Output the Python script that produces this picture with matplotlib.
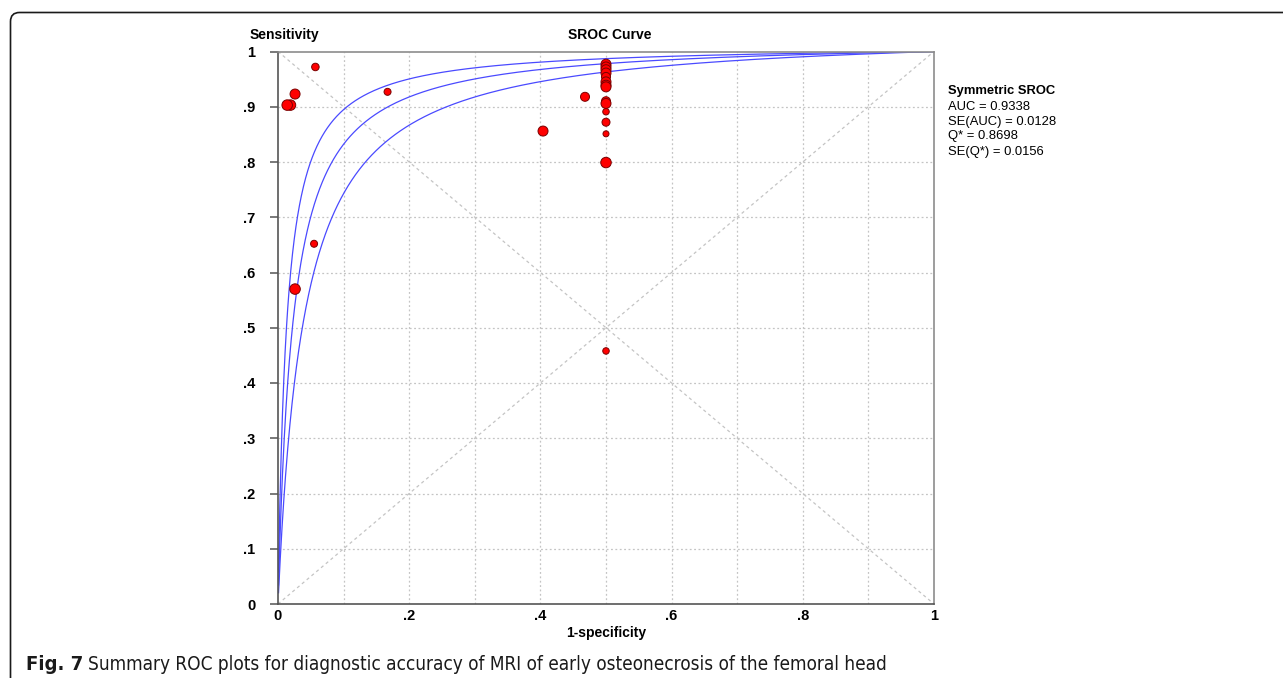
import numpy as np
import matplotlib.pyplot as plt
from matplotlib.patches import FancyBboxPatch
from matplotlib.transforms import IdentityTransform

plt.rcParams['font.family'] = ['Liberation Sans', 'DejaVu Sans']

# study points: 1-specificity, sensitivity, relative study weight (dot diameter)
fpr = [0.057, 0.026, 0.019, 0.014, 0.167, 0.404, 0.468, 0.055, 0.026,
       0.5, 0.5, 0.5, 0.5, 0.5, 0.5, 0.5, 0.5, 0.5, 0.5, 0.5, 0.5, 0.5, 0.5, 0.5]
tpr = [0.972, 0.923, 0.903, 0.903, 0.927, 0.856, 0.918, 0.652, 0.570,
       0.977, 0.972, 0.967, 0.961, 0.954, 0.945, 0.939, 0.936, 0.910, 0.906,
       0.891, 0.872, 0.851, 0.799, 0.458]
weight = [7.5, 10, 10.5, 10.5, 7, 10, 9, 7, 10.5,
          10, 10, 10, 10, 9, 10, 10, 10, 9, 10, 6.5, 8, 6, 10.5, 6.5]

# symmetric SROC summary
auc = 0.9338
se_auc = 0.0128
q_star = 0.8698
se_q = 0.0156

x_ticks = [0, 0.2, 0.4, 0.6, 0.8, 1]
x_labels = ['0', '.2', '.4', '.6', '.8', '1']
y_ticks = [0, 0.1, 0.2, 0.3, 0.4, 0.5, 0.6, 0.7, 0.8, 0.9, 1]
y_labels = ['0', '.1', '.2', '.3', '.4', '.5', '.6', '.7', '.8', '.9', '1']

W, H = 1283, 678
fig = plt.figure(figsize=(W / 100, H / 100), dpi=100)


def fx(x):
    return x / W


def fy(y):
    return 1 - y / H


ax = fig.add_axes([fx(278), fy(604), (934 - 278) / W, (604 - 51.5) / H])
ax.set_xlim(0, 1)
ax.set_ylim(0, 1)

# grid every 0.1, plus both diagonals
grid_col = '#c4c4c4'
for v in np.arange(1, 10) / 10:
    ax.axvline(v, color=grid_col, lw=0.9, ls=(0, (1.5, 2)), zorder=0)
    ax.axhline(v, color=grid_col, lw=0.9, ls=(0, (1.5, 2)), zorder=0)
ax.plot([0, 1], [1, 0], color=grid_col, lw=0.9, ls=(0, (2.5, 2.5)), zorder=0)
ax.plot([0, 1], [0, 1], color=grid_col, lw=0.9, ls=(0, (2.5, 2.5)), zorder=0)

# SROC curve with 95% band, from Q* and its SE
lq = np.log(q_star / (1 - q_star))
se_lq = se_q / (q_star * (1 - q_star))
x = np.linspace(0.0008, 1, 1500)
for a in [2 * (lq - 1.96 * se_lq), 2 * lq, 2 * (lq + 1.96 * se_lq)]:
    y = 1 / (1 + np.exp(-a) * (1 - x) / x)
    ax.plot(x, y, color='#4a4aff', lw=0.9, zorder=2)

sizes = [(d * 0.72) ** 2 for d in weight]
ax.scatter(fpr, tpr, s=sizes, c='#ff0000', edgecolors='#7a0000',
           linewidths=0.7, zorder=5, clip_on=False)

for side in ['left', 'bottom']:
    ax.spines[side].set_color('#555555')
    ax.spines[side].set_linewidth(1.2)
for side in ['top', 'right']:
    ax.spines[side].set_color('#8c8c8c')
    ax.spines[side].set_linewidth(1.2)

ax.set_xticks(x_ticks)
ax.set_xticklabels(x_labels)
ax.set_yticks(y_ticks)
ax.set_yticklabels(y_labels)
ax.tick_params(axis='x', length=0, pad=3.5, labelsize=10.5)
ax.tick_params(axis='y', length=5.8, width=1.1, color='#555555', pad=10.5,
               labelsize=10.5)
for lab in ax.get_xticklabels() + ax.get_yticklabels():
    lab.set_fontweight('bold')

ax.set_xlabel('1-specificity', fontsize=10, fontweight='bold', labelpad=2)
fig.text(fx(284), fy(35), 'Sensitivity', fontsize=10, fontweight='bold',
         ha='center', va='center')
fig.text(fx(610), fy(35), 'SROC Curve', fontsize=10, fontweight='bold',
         ha='center', va='center')

legend_lines = ['AUC = %.4f' % auc, 'SE(AUC) = %.4f' % se_auc,
                'Q* = %.4f' % q_star, 'SE(Q*) = %.4f' % se_q]
fig.text(fx(948), fy(91), 'Symmetric SROC', fontsize=9.4,
         fontweight='bold', va='center')
for i, line in enumerate(legend_lines):
    fig.text(fx(948), fy(106.5 + 15 * i), line, fontsize=9.4, va='center')

# outer rounded frame, open to the right and bottom
frame = FancyBboxPatch((10.5, -40), 1400, H - 12.5 + 40,
                       boxstyle='round,pad=0,rounding_size=9',
                       transform=IdentityTransform(), fill=False,
                       ec='#1a1a1a', lw=1.2, clip_on=False)
fig.add_artist(frame)

cap_font = ['Liberation Sans Narrow', 'DejaVu Sans']
t1 = fig.text(fx(26), fy(670), 'Fig. 7', fontsize=14.5, fontweight='bold',
              family=cap_font, fontstretch='condensed', va='baseline',
              color='#1a1a1a')
fig.canvas.draw()
r = fig.canvas.get_renderer()
bb = t1.get_window_extent(r)
t2 = fig.text((bb.x1 + 5) / W, fy(670),
              'Summary ROC plots for diagnostic accuracy of MRI of early '
              'osteonecrosis of the femoral head',
              fontsize=14.5, family=cap_font, fontstretch='condensed',
              va='baseline', color='#1a1a1a')
bb2 = t2.get_window_extent(r)
scale = (888 - bb2.x0) / bb2.width
t2.set_fontsize(14.5 * scale)

fig.savefig('out.png', dpi=100)
